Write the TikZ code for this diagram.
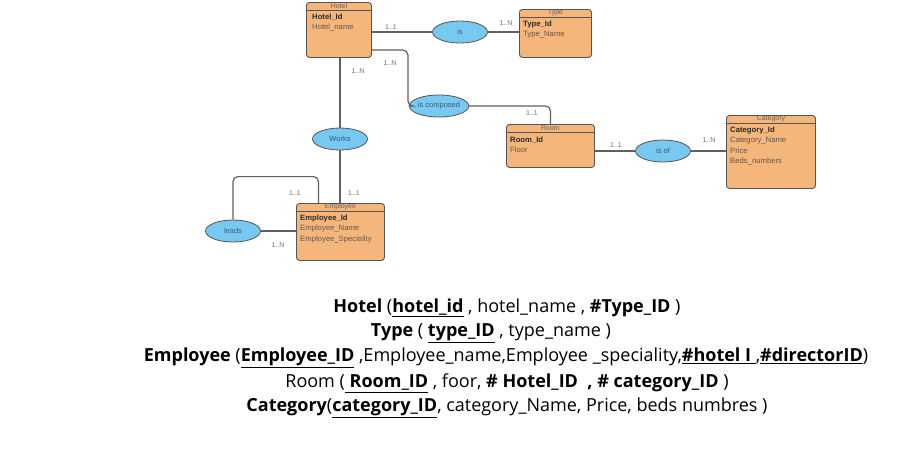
\documentclass[tikz,border=0pt]{standalone}
\usepackage{fontspec}
\setmainfont{Liberation Sans}
\newfontfamily\osans{Open Sans}
\usetikzlibrary{shapes.geometric}
\definecolor{entfill}{HTML}{F5B67B}
\definecolor{relfill}{HTML}{78C9F1}
\definecolor{bordc}{HTML}{555555}
\definecolor{linec}{HTML}{606060}
\definecolor{hdrc}{HTML}{6E5E4E}
\definecolor{attc}{HTML}{665646}
\definecolor{keyc}{HTML}{2A2A2A}
\definecolor{cardc}{HTML}{707070}
\definecolor{reltext}{HTML}{3A5A7A}
\tikzset{
  entity/.style={draw=bordc, fill=entfill, rounded corners=3pt, line width=0.9pt, anchor=north west, inner sep=0pt},
  hdr/.style={font=\fontsize{7}{7}\selectfont, text=hdrc, inner sep=0pt},
  attr/.style={font=\fontsize{7.7}{10.2}\selectfont, text=attc, anchor=north west, align=left, inner sep=0pt},
  rel/.style={ellipse, draw=bordc, fill=relfill, line width=0.8pt, minimum width=55pt, minimum height=22pt, inner sep=0pt, font=\fontsize{7.5}{8}\selectfont, text=reltext},
  conn/.style={draw=linec, line width=1.2pt, rounded corners=5pt},
  card/.style={font=\fontsize{7}{8}\selectfont, text=cardc, inner sep=0pt},
  schema/.style={font=\osans\fontsize{18}{20}\selectfont, text=black, inner sep=0pt}
}
\newcommand{\hdrline}[1]{\draw[draw=bordc, line width=0.9pt] ([yshift=-8pt]#1.north west) -- ([yshift=-8pt]#1.north east);}
\newcommand{\K}[1]{{\color{keyc}\bfseries #1}}
\begin{document}
\begin{tikzpicture}[x=1pt,y=-1pt]
\useasboundingbox[fill=white] (0,0) rectangle (924,451);

% entities
\node[entity, minimum width=65pt, minimum height=55pt] (hotel) at (306,2) {};
\hdrline{hotel}
\node[hdr] (hotelh) at ([yshift=-4pt]hotel.north) {Hotel};
\node[attr] (hotela) at ([xshift=6pt,yshift=-12pt]hotel.north west) {\K{Hotel\_Id}\\Hotel\_name};

\node[entity, minimum width=72pt, minimum height=48pt] (type) at (519,9) {};
\hdrline{type}
\node[hdr] (typeh) at ([yshift=-4pt]type.north) {Type};
\node[attr] (typea) at ([xshift=4pt,yshift=-12pt]type.north west) {\K{Type\_Id}\\Type\_Name};

\node[entity, minimum width=88pt, minimum height=43pt] (room) at (506,124) {};
\hdrline{room}
\node[hdr] (roomh) at ([yshift=-4pt]room.north) {Room};
\node[attr] (rooma) at ([xshift=4pt,yshift=-13pt]room.north west) {\K{Room\_Id}\\Floor};

\node[entity, minimum width=89pt, minimum height=73pt] (category) at (726,115) {};
\hdrline{category}
\node[hdr] (categoryh) at ([yshift=-4pt]category.north) {Category};
\node[attr] (categorya) at ([xshift=4pt,yshift=-12pt]category.north west) {\K{Category\_Id}\\Category\_Name\\Price\\Beds\_numbers};

\node[entity, minimum width=88pt, minimum height=57pt] (employee) at (296,203) {};
\hdrline{employee}
\node[hdr] (employeeh) at ([yshift=-4pt]employee.north) {Employee};
\node[attr] (employeea) at ([xshift=4pt,yshift=-12pt]employee.north west) {\K{Employee\_Id}\\Employee\_Name\\Employee\_Speciality};

% relationships
\node[rel] (is) at (460,32) {is};
\node[rel] (iscomp) at (439,106) {is composed};
\node[rel] (works) at (340,139) {Works};
\node[rel] (isof) at (663,151) {is of};
\node[rel] (leads) at (233,231) {leads};

% connectors
\draw[conn] (hotel.east |- is.west) -- (is.west);
\draw[conn] (is.east) -- (type.west |- is.east);
\draw[conn] ([yshift=-20pt]hotel.east) -- ++(36,0) |- (iscomp.west);
\draw[conn] (iscomp.east) -| (room.north);
\draw[conn] (works.north |- hotel.south) -- (works.north);
\draw[conn] (works.south) -- (works.south |- employee.north);
\draw[conn] (leads.north) -- ++(0,-43) -| ([xshift=-22pt]employee.north);
\draw[conn] (leads.east) -- (employee.west |- leads.east);
\draw[conn] (room.east |- isof.west) -- (isof.west);
\draw[conn] (isof.east) -- (category.west |- isof.east);

% cardinalities
\node[card] (c1) at (391,27) {1..1};
\node[card] (c2) at (506,23) {1..N};
\node[card] (c3) at (390,63) {1..N};
\node[card] (c4) at (358,71) {1..N};
\node[card] (c5) at (532,113) {1..1};
\node[card] (c6) at (616,145) {1..1};
\node[card] (c7) at (709,140) {1..N};
\node[card] (c8) at (295,193) {1..1};
\node[card] (c9) at (354,193) {1..1};
\node[card] (c10) at (278,245) {1..N};

% schema text
\node[schema] (s1) at (507,308) {\textbf{Hotel} (\textbf{\underline{hotel\_id}} , hotel\_name , \textbf{\#Type\_ID} )};
\node[schema] (s2) at (491,333) {\textbf{Type} ( \textbf{\underline{type\_ID}} , type\_name )};
\node[schema] (s3) at (506,358) {\textbf{Employee} (\textbf{\underline{Employee\_ID}} ,Employee\_name,Employee \_speciality,\textbf{\underline{\#hotel I\ }},\textbf{\underline{\#directorID}})};
\node[schema] (s4) at (507,383) {Room (\textbf{\underline{\ Room\_ID}} , foor, \textbf{\# Hotel\_ID \ , \# category\_ID} )};
\node[schema] (s5) at (507,408) {\textbf{Category}(\textbf{\underline{category\_ID}}, category\_Name, Price, beds numbres )};
\end{tikzpicture}
\end{document}
